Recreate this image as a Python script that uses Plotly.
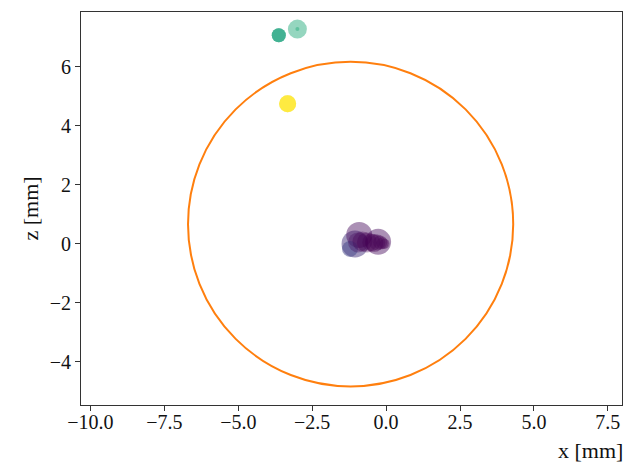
import plotly.graph_objects as go

# data
x_vals = [-1.05, -0.91, -0.27, -1.22,
          -0.95, -0.8, -0.65, -0.5, -0.4, -0.3, -0.2, -0.12, -0.05,
          -3.63, -3.63, -3.63, -3.0, -3.0, -3.33, -3.33, -3.33]
z_vals = [0.0, 0.3, 0.07, -0.17,
          0.05, 0.08, 0.05, 0.05, 0.03, 0.05, 0.05, 0.02, 0.0,
          7.07, 7.07, 7.07, 7.28, 7.28, 4.75, 4.75, 4.75]
c_vals = [0.15, 0.02, 0.02, 0.2,
          0.03, 0.0, 0.0, 0.0, 0.0, 0.0, 0.0, 0.0, 0.0,
          0.6, 0.6, 0.6, 0.62, 0.62, 1.0, 1.0, 1.0]
s_vals = [27, 26, 26, 16,
          20, 20, 20, 18, 18, 16, 14, 12, 10,
          14, 14, 14, 19, 4, 17, 17, 17]
a_vals = [0.5, 0.45, 0.45, 0.5,
          0.35, 0.35, 0.35, 0.35, 0.35, 0.35, 0.35, 0.35, 0.35,
          0.5, 0.5, 0.5, 0.5, 0.5, 0.5, 0.5, 0.5]

circle_center = (-1.2, 0.67)
circle_radius = 5.5

x_ticks = [-10.0, -7.5, -5.0, -2.5, 0.0, 2.5, 5.0, 7.5]
y_ticks = [-4, -2, 0, 2, 4, 6]

fig = go.Figure()
fig.add_trace(go.Scatter(
    x=x_vals, y=z_vals, mode="markers",
    marker=dict(color=c_vals, colorscale="Viridis", cmin=0, cmax=1,
                size=s_vals, opacity=a_vals, line=dict(width=0)),
    showlegend=False, hoverinfo="skip"))

cx, cy = circle_center
fig.add_shape(type="circle", xref="x", yref="y",
              x0=cx - circle_radius, x1=cx + circle_radius,
              y0=cy - circle_radius, y1=cy + circle_radius,
              line=dict(color="#ff7f0e", width=2))

font = "Liberation Serif"
axis_common = dict(showgrid=False, zeroline=False, showline=True, mirror=True,
                   linecolor="#333333", linewidth=1, ticks="outside", ticklen=5,
                   tickcolor="#333333", tickfont=dict(family=font, size=20, color="#111"))
fig.update_xaxes(range=[-10.32, 7.98], tickvals=x_ticks,
                 ticktext=["\u2212" + f"{abs(v):.1f}" if v < 0 else f"{v:.1f}" for v in x_ticks],
                 ticklabelstandoff=-6, **axis_common)
fig.update_yaxes(range=[-5.46, 7.86], tickvals=y_ticks,
                 ticktext=["\u2212" + str(abs(v)) if v < 0 else str(v) for v in y_ticks],
                 **axis_common)

fig.add_annotation(text="x [mm]", xref="paper", yref="paper", x=1.005, y=-58 / 393,
                   xanchor="right", yanchor="bottom", yshift=-2, showarrow=False,
                   font=dict(family=font, size=22, color="#111"))
fig.add_annotation(text="z [mm]", xref="paper", yref="paper", x=-51 / 541, y=0.5,
                   xanchor="center", yanchor="middle", textangle=-90, showarrow=False,
                   font=dict(family=font, size=22, color="#111"))

fig.update_layout(width=634, height=463, margin=dict(l=81, r=12, t=12, b=58),
                  plot_bgcolor="white", paper_bgcolor="white")
fig.write_html("out.html")
